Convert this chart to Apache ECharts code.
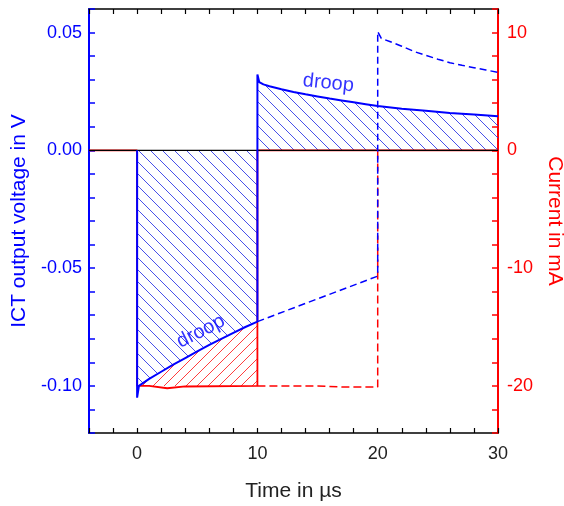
<!DOCTYPE html>
<html><head><meta charset="utf-8">
<script src="https://cdn.jsdelivr.net/npm/echarts@6/dist/echarts.min.js"></script>
<style>html,body{margin:0;padding:0;background:#fff}#c{width:564px;height:506px}</style>
</head><body><div id="c"></div>
<script>
// ICT output voltage (V), measured with 10 µs pulse
const voltTime  = [0, 0, 0.15, 1, 2, 3, 4, 5, 6, 7, 8, 9, 10, 10, 10.15, 10.5, 11, 12, 13, 14, 15, 16, 17, 18, 19, 20, 22, 24, 26, 28, 30];
const voltValue = [0, -0.105, -0.1, -0.097, -0.094, -0.091, -0.0882, -0.0854, -0.0826, -0.08, -0.0775, -0.075, -0.0727, 0.0322, 0.029, 0.028, 0.0272, 0.0259, 0.0248, 0.0238, 0.0229, 0.022, 0.0212, 0.0204, 0.0196, 0.0188, 0.0177, 0.0168, 0.0159, 0.0152, 0.0145];
// ICT output voltage (V), 20 µs pulse (dashed continuation)
const voltDashTime  = [10, 20, 20, 20.3, 21, 22, 23, 24, 25, 26, 27, 28, 29, 30];
const voltDashValue = [-0.0727, -0.0534, 0.0504, 0.0475, 0.0462, 0.0442, 0.042, 0.0403, 0.0387, 0.0372, 0.0361, 0.0351, 0.0341, 0.0331];
// Current (mA)
const currTime  = [-4, 0, 0, 1, 2.5, 4, 10, 10, 30];
const currValue = [0, 0, -20, -20, -20.2, -20.05, -20, 0, 0];
const currDashTime  = [10, 15, 17, 20, 20];
const currDashValue = [-20, -20, -20.1, -20.1, 0];
// droop region (between current level and voltage curve)
const droopTime  = [0, 1, 2, 3, 4, 5, 6, 7, 8, 9, 10];
const droopValue = [-0.1, -0.097, -0.094, -0.091, -0.0882, -0.0854, -0.0826, -0.08, -0.0775, -0.075, -0.0727];
const droopBase = -0.1;
// labels
const labelText = ['droop', 'droop'];
const labelTime = [15.9, 5.3];
const labelValue = [0.0285, -0.0769];
const labelRotate = [-6, 27];

const zip = (a, b) => a.map((x, i) => [x, b[i]]);

function hatch(color, period, back) {
  const c = document.createElement('canvas');
  c.width = period; c.height = period;
  const g = c.getContext('2d');
  g.strokeStyle = color; g.lineWidth = 1;
  g.beginPath();
  if (back) {
    g.moveTo(-2, -2); g.lineTo(period + 2, period + 2);
    g.moveTo(-2, period - 2); g.lineTo(2, period + 2);
    g.moveTo(period - 2, -2); g.lineTo(period + 2, 2);
  } else {
    g.moveTo(-2, period + 2); g.lineTo(period + 2, -2);
    g.moveTo(-2, 2); g.lineTo(2, -2);
    g.moveTo(period - 2, period + 2); g.lineTo(period + 2, period - 2);
  }
  g.stroke();
  return c;
}
const blueHatch = hatch('rgba(40,50,230,0.85)', 12, true);
const redHatch = hatch('rgba(255,40,40,0.9)', 11, false);

const font = "'Liberation Sans', Arial, sans-serif";
const chart = echarts.init(document.getElementById('c'), null, {renderer: 'canvas'});
chart.setOption({
  animation: false,
  backgroundColor: '#fff',
  grid: {left: 89, right: 66, top: 9, bottom: 73, containLabel: false, outerBoundsMode: 'none'},
  xAxis: [{
    type: 'value', min: -4, max: 30, interval: 2, position: 'bottom',
    name: 'Time in µs', nameLocation: 'middle', nameGap: 48,
    nameTextStyle: {color: '#222', fontSize: 21, fontFamily: font},
    axisLine: {show: true, onZero: false, lineStyle: {color: '#000', width: 1.5}},
    axisTick: {show: true, inside: true, length: 5, lineStyle: {color: '#000', width: 1.2}},
    axisLabel: {color: '#222', fontSize: 18, fontFamily: font, margin: 12,
      formatter: v => (Math.round(v) % 10 === 0 ? String(Math.round(v)) : '')},
    splitLine: {show: false}
  }, {
    type: 'value', min: -4, max: 30, interval: 2, position: 'top',
    axisLine: {show: true, onZero: false, lineStyle: {color: '#000', width: 1.5}},
    axisTick: {show: true, inside: true, length: 5, lineStyle: {color: '#000', width: 1.2}},
    axisLabel: {show: false}, splitLine: {show: false}
  }],
  yAxis: [{
    type: 'value', min: -0.12, max: 0.06, interval: 0.01, position: 'left',
    name: 'ICT output voltage in V', nameLocation: 'middle', nameGap: 56,
    nameTextStyle: {color: '#0000ff', fontSize: 21, fontFamily: font},
    axisLine: {show: true, onZero: false, lineStyle: {color: '#0000ff', width: 2}},
    axisTick: {show: true, inside: true, length: 6, lineStyle: {color: '#0000ff', width: 1.5}},
    axisLabel: {color: '#0000ff', fontSize: 18, fontFamily: font, margin: 7,
      formatter: v => { const r = Math.round(v * 100); return r % 5 === 0 ? (r / 100).toFixed(2) : ''; }},
    splitLine: {show: false}
  }, {
    type: 'value', min: -24, max: 12, interval: 2, position: 'right',
    name: 'Current in mA', nameLocation: 'middle', nameGap: 46, nameRotate: -90,
    nameTextStyle: {color: '#ff0000', fontSize: 21, fontFamily: font},
    axisLine: {show: true, onZero: false, lineStyle: {color: '#ff0000', width: 2}},
    axisTick: {show: true, inside: true, length: 6, lineStyle: {color: '#ff0000', width: 1.5}},
    axisLabel: {color: '#ff0000', fontSize: 18, fontFamily: font, margin: 9,
      formatter: v => (Math.round(v) % 10 === 0 ? String(Math.round(v)) : '')},
    splitLine: {show: false}
  }],
  series: [
    { // blue hatch
      type: 'line', xAxisIndex: 0, yAxisIndex: 0, data: zip(voltTime, voltValue),
      symbol: 'none', z: 1, lineStyle: {width: 0, opacity: 0},
      areaStyle: {color: {image: blueHatch, repeat: 'repeat'}, opacity: 1}
    },
    { // red hatch (polygon between current level and voltage curve)
      type: 'custom', xAxisIndex: 0, yAxisIndex: 0, z: 1,
      data: zip(droopTime, droopValue),
      renderItem: (params, api) => {
        if (params.dataIndex !== 0) return null;
        const pts = droopTime.map((t, i) => api.coord([t, droopValue[i]]));
        pts.push(api.coord([droopTime[droopTime.length - 1], droopBase]));
        pts.push(api.coord([droopTime[0], droopBase]));
        return {type: 'polygon', shape: {points: pts},
          style: {fill: {image: redHatch, repeat: 'repeat'}, stroke: null}};
      }
    },
    { // current solid
      type: 'line', xAxisIndex: 0, yAxisIndex: 1, data: zip(currTime, currValue),
      symbol: 'none', z: 3, lineStyle: {color: '#ff0000', width: 1.8}
    },
    { // zero line
      type: 'line', xAxisIndex: 0, yAxisIndex: 0, data: [[-4, 0], [30, 0]],
      symbol: 'none', z: 4, lineStyle: {color: '#000', width: 1.2}
    },
    { // current dashed
      type: 'line', xAxisIndex: 0, yAxisIndex: 1, data: zip(currDashTime, currDashValue),
      symbol: 'none', z: 3, lineStyle: {color: '#ff0000', width: 1.5, type: [8, 4]}
    },
    { // voltage dashed
      type: 'line', xAxisIndex: 0, yAxisIndex: 0, data: zip(voltDashTime, voltDashValue),
      symbol: 'none', z: 5, lineStyle: {color: '#0000ff', width: 1.5, type: [7, 4]}
    },
    { // voltage solid
      type: 'line', xAxisIndex: 0, yAxisIndex: 0, data: zip(voltTime, voltValue),
      symbol: 'none', z: 6, lineStyle: {color: '#0000ff', width: 2}
    },
    { // labels
      type: 'scatter', xAxisIndex: 0, yAxisIndex: 0, symbolSize: 0, z: 7,
      data: labelTime.map((t, i) => ({value: [t, labelValue[i]],
        label: {show: true, position: 'inside', formatter: labelText[i], rotate: labelRotate[i],
          color: '#0000ff', fontSize: 20, fontFamily: font}}))
    }
  ]
});
</script></body></html>
